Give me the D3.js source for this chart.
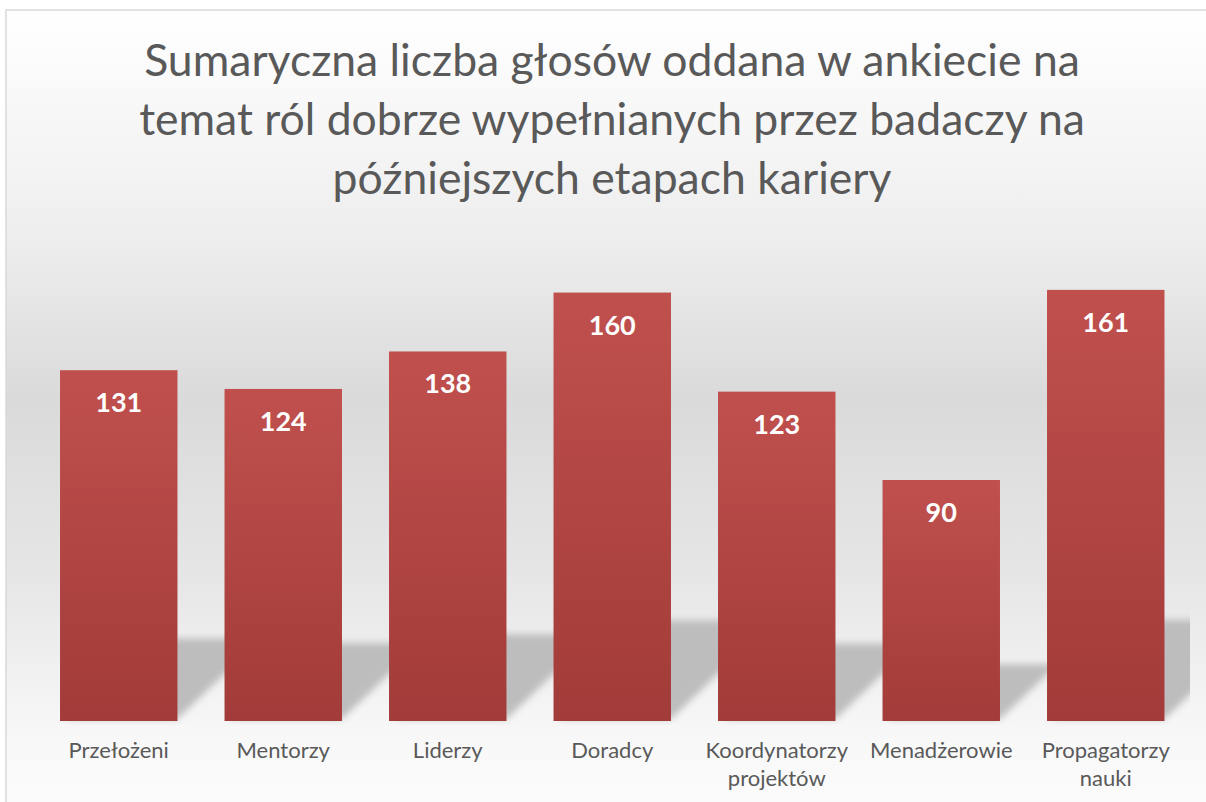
<!DOCTYPE html>
<html>
<head>
<meta charset="utf-8">
<script src="https://cdn.jsdelivr.net/npm/d3@7"></script>
<style>
  body { margin: 0; background: #fff; }
  text { font-family: Lato, "Open Sans", sans-serif; }
</style>
</head>
<body>
<script>
// data
var categories = ["Przełożeni", "Mentorzy", "Liderzy", "Doradcy", "Koordynatorzy projektów", "Menadżerowie", "Propagatorzy nauki"];
var votes = [131, 124, 138, 160, 123, 90, 161];
var titleLines = ["Sumaryczna liczba głosów oddana w ankiecie na", "temat ról dobrze wypełnianych przez badaczy na", "późniejszych etapach kariery"];

var width = 1206, height = 802;

var svg = d3.select("body").append("svg")
    .attr("width", width)
    .attr("height", height);

var defs = svg.append("defs");

// chart area background gradient
var bg = defs.append("linearGradient").attr("id", "bg")
    .attr("x1", 0).attr("y1", 0).attr("x2", 0).attr("y2", 1);
bg.append("stop").attr("offset", "0%").attr("stop-color", "#ffffff");
bg.append("stop").attr("offset", "28%").attr("stop-color", "#eeeeee");
bg.append("stop").attr("offset", "48%").attr("stop-color", "#dadada");
bg.append("stop").attr("offset", "70%").attr("stop-color", "#e6e6e6");
bg.append("stop").attr("offset", "90%").attr("stop-color", "#f8f8f8");
bg.append("stop").attr("offset", "100%").attr("stop-color", "#fcfcfc");

// bar gradient
var barGrad = defs.append("linearGradient").attr("id", "barGrad")
    .attr("x1", 0).attr("y1", 0).attr("x2", 0).attr("y2", 1);
barGrad.append("stop").attr("offset", "0%").attr("stop-color", "#c0504d");
barGrad.append("stop").attr("offset", "100%").attr("stop-color", "#a23b39");

defs.append("filter").attr("id", "blur")
    .attr("x", "-20%").attr("y", "-20%").attr("width", "140%").attr("height", "140%")
  .append("feGaussianBlur").attr("stdDeviation", 3.5);

defs.append("clipPath").attr("id", "plotClip")
  .append("rect").attr("x", 30).attr("y", 200).attr("width", 1160).attr("height", 525);

svg.append("rect")
    .attr("x", 6).attr("y", 10)
    .attr("width", 1210).attr("height", 810)
    .attr("fill", "url(#bg)")
    .attr("stroke", "#d9d9d9")
    .attr("stroke-width", 1.5);

// title
svg.append("g").selectAll("text")
    .data(titleLines)
  .enter().append("text")
    .attr("x", 612)
    .attr("y", function(d, i) { return 76 + i * 59; })
    .attr("text-anchor", "middle")
    .attr("fill", "#595959")
    .style("font-size", "44.5px")
    .text(function(d) { return d; });

// scales
var x = d3.scaleBand()
    .domain(categories)
    .range([36.5, 1188])
    .paddingInner(0.286)
    .paddingOuter(0.143);
var y = d3.scaleLinear()
    .domain([0, 180])
    .range([721, 239]);

var base = y(0);

// floor shadows
svg.append("g")
    .attr("clip-path", "url(#plotClip)")
  .append("g")
    .attr("filter", "url(#blur)")
  .selectAll("polygon")
    .data(categories)
  .enter().append("polygon")
    .attr("fill", "#bdbdbd")
    .attr("points", function(d, i) {
      var h = base - y(votes[i]);
      var sh = 0.235 * h, dx = 0.24 * h;
      var x0 = x(d) + 4, x1 = x(d) + x.bandwidth();
      return [[x0, base - 2], [x1, base - 2], [x1 + dx, base - sh], [x0 + dx, base - sh]].join(" ");
    });

// bars
svg.append("g").selectAll(".bar")
    .data(categories)
  .enter().append("rect")
    .attr("class", "bar")
    .attr("x", function(d) { return x(d); })
    .attr("width", x.bandwidth())
    .attr("y", function(d, i) { return y(votes[i]); })
    .attr("height", function(d, i) { return base - y(votes[i]); })
    .attr("fill", "url(#barGrad)");

// value labels
svg.append("g").selectAll("text")
    .data(categories)
  .enter().append("text")
    .attr("x", function(d) { return x(d) + x.bandwidth() / 2; })
    .attr("y", function(d, i) { return y(votes[i]) + 42; })
    .attr("text-anchor", "middle")
    .attr("fill", "#ffffff")
    .style("font-size", "27px")
    .style("font-weight", "bold")
    .text(function(d, i) { return votes[i]; });

// category axis labels (wrapped)
var labels = svg.append("g").selectAll("text")
    .data(categories)
  .enter().append("text")
    .attr("x", function(d) { return x(d) + x.bandwidth() / 2; })
    .attr("y", 758)
    .attr("text-anchor", "middle")
    .attr("fill", "#595959")
    .style("font-size", "22px");

labels.each(function(d) {
  var words = d.split(" ");
  var t = d3.select(this);
  words.forEach(function(w, j) {
    t.append("tspan")
      .attr("x", t.attr("x"))
      .attr("dy", j === 0 ? 0 : 28)
      .text(w);
  });
});
</script>
</body>
</html>
